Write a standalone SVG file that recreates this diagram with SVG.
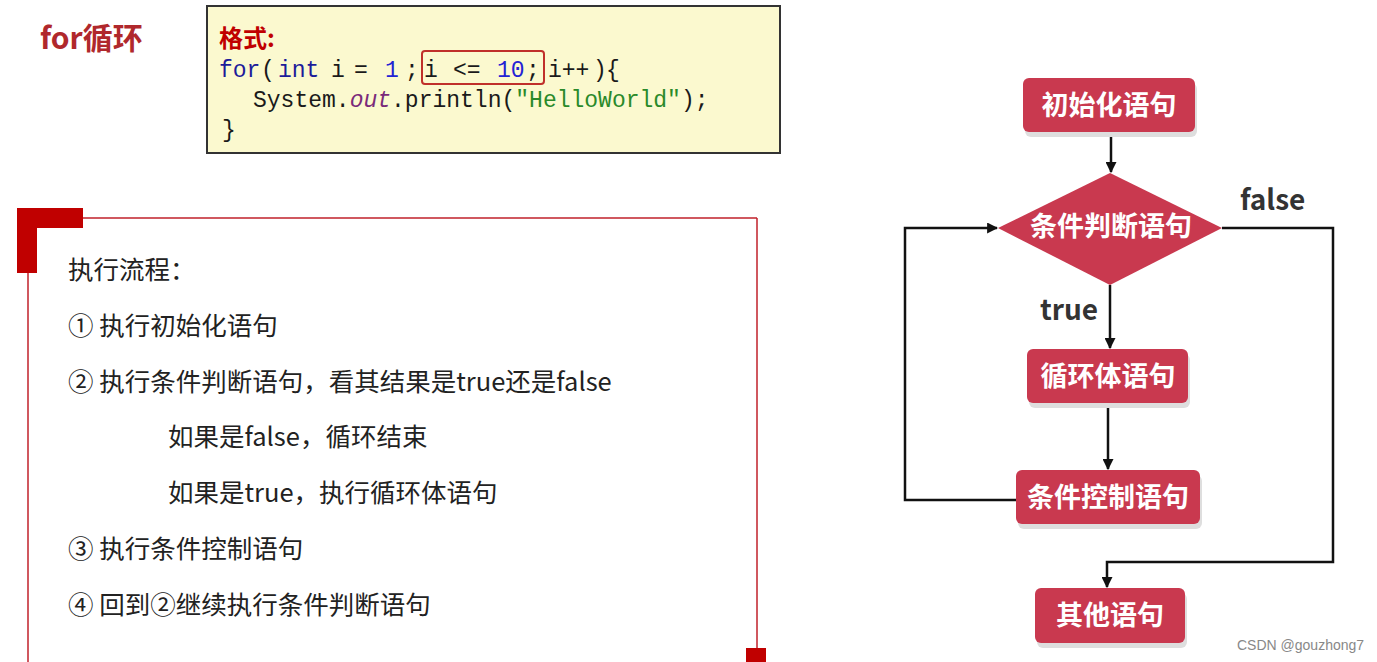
<svg xmlns="http://www.w3.org/2000/svg" width="1377" height="662" viewBox="0 0 1377 662">
<defs>
<style>
.cjk{font-family:"Noto Sans CJK SC","Noto Sans",sans-serif;}
.title{font-size:30px;font-weight:bold;fill:#b0282c;}
.code{font-family:"Liberation Mono","DejaVu Sans Mono",monospace;font-size:23px;fill:#1a1a1a;}
.kw{fill:#1c1c9a;}
.num{fill:#2323d4;}
.step{font-size:25.5px;fill:#222;}
.node rect.box,.node polygon.box{fill:#c9394f;}
.node .shadow{fill:#dedede;}
.ntext{font-size:27px;font-weight:bold;fill:#ffffff;text-anchor:middle;}
.lbl{font-size:28px;font-weight:bold;fill:#333;}
.conn{fill:none;stroke:#111;stroke-width:2.5;}
</style>
<marker id="arr" viewBox="0 0 10 10" refX="9" refY="5" markerWidth="4.4" markerHeight="4.4" orient="auto" markerUnits="strokeWidth">
<path d="M0,0 L10,5 L0,10 z" fill="#111"/>
</marker>
</defs>
<rect width="1377" height="662" fill="#ffffff"/>

<g id="title">
<text x="40" y="49" class="cjk title">for循环</text>
</g>

<g id="codebox">
<rect x="207" y="6" width="573" height="147" fill="#fbf9cf" stroke="#333" stroke-width="2"/>
<text x="219" y="47" class="cjk" font-size="24" font-weight="bold" fill="#c00000">格式:</text>
<text y="77" class="code"><tspan x="219" class="kw">for</tspan><tspan x="261">(</tspan><tspan x="278" class="kw">int</tspan><tspan x="331">i</tspan><tspan x="354">=</tspan><tspan x="385" class="num">1</tspan><tspan x="405">;</tspan><tspan x="424">i</tspan><tspan x="453">&lt;=</tspan><tspan x="497" class="num">10</tspan><tspan x="526">;</tspan><tspan x="548">i++</tspan><tspan x="593">)</tspan><tspan x="606">{</tspan></text>
<text x="253" y="107" class="code" xml:space="preserve">System.<tspan fill="#7a2a7a" font-style="italic">out</tspan>.println(<tspan fill="#2a8a2a">"HelloWorld"</tspan>);</text>
<text x="222" y="137" class="code">}</text>
<rect x="422" y="51" width="122" height="33" rx="3" fill="none" stroke="#c0302a" stroke-width="2"/>
</g>

<g id="panel">
<polygon points="17,208 83,208 83,228 37,228 37,273 17,273" fill="#c00000"/>
<line x1="83" y1="218" x2="757" y2="218" stroke="#c0202a" stroke-width="1.5"/>
<line x1="757" y1="218" x2="757" y2="650" stroke="#c0202a" stroke-width="1.5"/>
<line x1="28" y1="273" x2="28" y2="662" stroke="#c0202a" stroke-width="1.5"/>
<rect x="746" y="648" width="20" height="14" fill="#c00000"/>
<text x="68" y="279" class="cjk step">执行流程：</text>
<text x="68" y="335" class="cjk step">① 执行初始化语句</text>
<text x="68" y="391" class="cjk step">② 执行条件判断语句，看其结果是true还是false</text>
<text x="168" y="446" class="cjk step">如果是false，循环结束</text>
<text x="168" y="502" class="cjk step">如果是true，执行循环体语句</text>
<text x="68" y="558" class="cjk step">③ 执行条件控制语句</text>
<text x="68" y="614" class="cjk step">④ 回到②继续执行条件判断语句</text>
</g>

<g id="connectors">
<line class="conn" x1="1111" y1="132" x2="1111" y2="172" marker-end="url(#arr)"/>
<line class="conn" x1="1110" y1="285" x2="1110" y2="348" marker-end="url(#arr)"/>
<line class="conn" x1="1108" y1="403" x2="1108" y2="469" marker-end="url(#arr)"/>
<polyline class="conn" points="1016,500 905,500 905,228 997,228" marker-end="url(#arr)"/>
<polyline class="conn" points="1222,228 1333,228 1333,562 1107,562 1107,587" marker-end="url(#arr)"/>
<text x="1240" y="210" class="cjk lbl">false</text>
<text x="1040" y="320" class="cjk lbl">true</text>
</g>

<g id="n-init" class="node">
<rect class="shadow" x="1025" y="83" width="172" height="54" rx="6"/>
<rect class="box" x="1023" y="78" width="172" height="54" rx="6"/>
<text x="1109" y="115" class="cjk ntext">初始化语句</text>
</g>

<g id="n-cond" class="node">
<polygon class="box" points="1110,173 1222,228 1110,285 998,228"/>
<text x="1111" y="236" class="cjk ntext">条件判断语句</text>
</g>

<g id="n-body" class="node">
<rect class="shadow" x="1029" y="354" width="161" height="54" rx="6"/>
<rect class="box" x="1027" y="349" width="161" height="54" rx="6"/>
<text x="1108" y="386" class="cjk ntext">循环体语句</text>
</g>

<g id="n-ctrl" class="node">
<rect class="shadow" x="1018" y="475" width="184" height="54" rx="6"/>
<rect class="box" x="1016" y="470" width="184" height="54" rx="6"/>
<text x="1108" y="507" class="cjk ntext">条件控制语句</text>
</g>

<g id="n-other" class="node">
<rect class="shadow" x="1037" y="593" width="150" height="55" rx="6"/>
<rect class="box" x="1035" y="588" width="150" height="55" rx="6"/>
<text x="1110" y="625" class="cjk ntext">其他语句</text>
</g>

<g id="watermark">
<text x="1237" y="650" font-family="Liberation Sans, sans-serif" font-size="14" fill="#888">CSDN @gouzhong7</text>
</g>
</svg>
